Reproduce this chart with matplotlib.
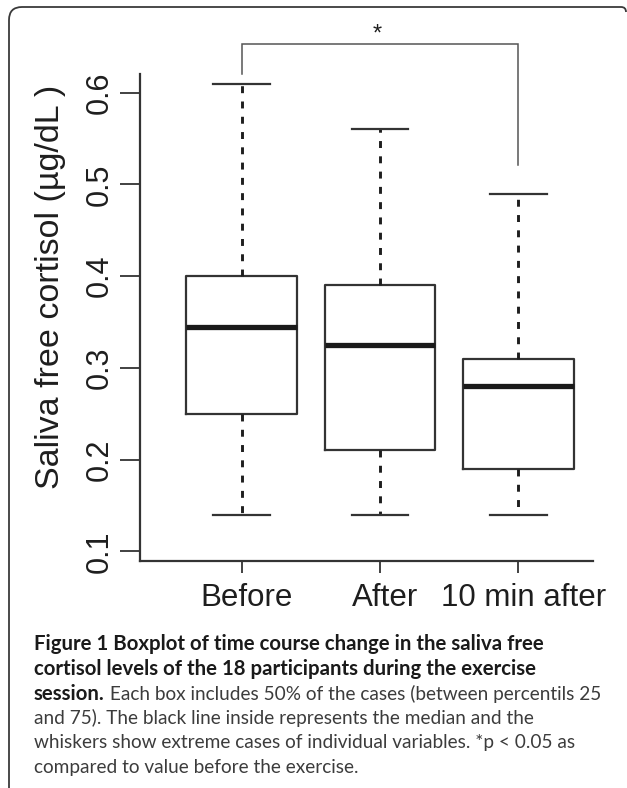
import matplotlib
matplotlib.use("Agg")
import matplotlib.pyplot as plt
from matplotlib.path import Path
from matplotlib.patches import PathPatch
from matplotlib.transforms import Affine2D, ScaledTranslation

# ---- data ----
categories = ["Before", "After", "10 min after"]
whisker_low = [0.14, 0.14, 0.14]
q1 = [0.25, 0.21, 0.19]
medians = [0.345, 0.325, 0.28]
q3 = [0.40, 0.39, 0.31]
whisker_high = [0.61, 0.56, 0.49]
yticks = [0.1, 0.2, 0.3, 0.4, 0.5, 0.6]
ylabel = "Saliva free cortisol (\u00b5g/dL )"
sig_pair = (1, 3)
sig_text = "*"

caption_bold_1 = "Figure 1 Boxplot of time course change in the saliva free"
caption_bold_2 = "cortisol levels of the 18 participants during the exercise"
caption_bold_3 = "session."
caption_reg_3 = " Each box includes 50% of the cases (between percentils 25"
caption_reg_4 = "and 75). The black line inside represents the median and the"
caption_reg_5 = "whiskers show extreme cases of individual variables. *p < 0.05 as"
caption_reg_6 = "compared to value before the exercise."

W, H = 627, 788
plt.rcParams['lines.scale_dashes'] = False
fig = plt.figure(figsize=(W / 100, H / 100), dpi=100)
fig.patch.set_facecolor("white")

def fx(px):
    return px / W

def fy(py):
    return 1 - py / H

# axes placement (pixel coordinates of plot region)
ax_l, ax_r, ax_t, ax_b = 140, 593, 74, 561
ax = fig.add_axes([fx(ax_l), fy(ax_b), fx(ax_r) - fx(ax_l), fy(ax_t) - fy(ax_b)])

line_col = "#333333"
text_col = "#1e1e1e"

stats = []
for i, c in enumerate(categories):
    stats.append(dict(label=c, whislo=whisker_low[i], q1=q1[i], med=medians[i],
                      q3=q3[i], whishi=whisker_high[i], fliers=[]))

positions = list(range(1, len(categories) + 1))
ax.bxp(stats, positions=positions, widths=0.8, capwidths=0.41, showfliers=False,
       boxprops=dict(color=line_col, linewidth=1.6),
       medianprops=dict(color="#1a1a1a", linewidth=3.8, solid_capstyle="butt"),
       whiskerprops=dict(color="#1e1e1e", linewidth=2.1, linestyle=(0, (5.0, 6.0))),
       capprops=dict(color=line_col, linewidth=1.6))

ax.set_xlim(0.265, 3.54)
ax.set_ylim(0.0894, 0.6204)
ax.set_yticks(yticks)
ax.set_yticklabels([f"{v:.1f}" for v in yticks], rotation=90, va="center",
                   fontfamily="Liberation Sans", fontsize=22, color=text_col)
ax.set_xticks(positions)
ax.set_xticklabels(categories, fontfamily="Liberation Sans", fontsize=22.5, color=text_col)
ax.tick_params(axis="y", length=14.4, width=1.3, color=line_col, pad=4)
ax.tick_params(axis="x", length=8.6, width=1.3, color=line_col, pad=7)
shift = ScaledTranslation(5 / 100, 0, fig.dpi_scale_trans)
for lab in ax.get_xticklabels():
    lab.set_transform(lab.get_transform() + shift)
for s in ["top", "right"]:
    ax.spines[s].set_visible(False)
for s in ["left", "bottom"]:
    ax.spines[s].set_color(line_col)
    ax.spines[s].set_linewidth(1.6)
ax.set_facecolor("white")

fig.text(fx(51), fy(287), ylabel, rotation=90, ha="center", va="center",
         fontfamily="Liberation Sans", fontsize=24.5, color=text_col)

# significance bracket
br_top = 0.653
left_end = 0.620
right_end = 0.521
ax.plot([sig_pair[0], sig_pair[0], sig_pair[1], sig_pair[1]],
        [left_end, br_top, br_top, right_end], color="#555555", linewidth=1.1,
        clip_on=False, solid_joinstyle="miter")
ax.text((sig_pair[0] + sig_pair[1]) / 2 - 0.02, 0.663, sig_text, ha="center", va="center",
        fontfamily="Liberation Sans", fontsize=17, color=text_col, clip_on=False)

# frame around figure
pix = Affine2D().scale(1 / W, -1 / H).translate(0, 1) + fig.transFigure
verts = [(9, 790), (9, 20), (9, 7), (22, 7), (621, 7), (626, 7), (626, 12)]
codes = [Path.MOVETO, Path.LINETO, Path.CURVE3, Path.CURVE3, Path.LINETO,
         Path.CURVE3, Path.CURVE3]
fig.patches.append(PathPatch(Path(verts, codes), transform=pix, fill=False,
                             edgecolor="#3a3a3a", linewidth=1.3))

# caption
cap_font = "Lato"
x0 = 34
line_ys = [642, 667, 692, 716, 741, 766]
bold_col = "#1a1a1a"
reg_col = "#3c3c3c"
renderer = fig.canvas.get_renderer()

def fitted(text, target_w, weight):
    t = fig.text(0, 0, text, fontfamily=cap_font, fontweight=weight, fontsize=10)
    w = t.get_window_extent(renderer).width
    t.remove()
    return 10 * target_w / w

bold_size = fitted(caption_bold_1, 511, "bold")
reg_size = fitted(caption_reg_4, 501, "normal")

for txt, yy in [(caption_bold_1, line_ys[0]), (caption_bold_2, line_ys[1])]:
    fig.text(fx(x0), fy(yy), txt, fontfamily=cap_font, fontweight="bold",
             fontsize=bold_size, color=bold_col, va="center_baseline")
tb = fig.text(fx(x0), fy(line_ys[2]), caption_bold_3, fontfamily=cap_font, fontweight="bold",
              fontsize=bold_size, color=bold_col, va="center_baseline")
bw = tb.get_window_extent(renderer).width
fig.text(fx(x0 + bw), fy(line_ys[2]), caption_reg_3, fontfamily=cap_font,
         fontsize=reg_size, color=reg_col, va="center_baseline")
for txt, yy in [(caption_reg_4, line_ys[3]), (caption_reg_5, line_ys[4]),
                (caption_reg_6, line_ys[5])]:
    fig.text(fx(x0), fy(yy), txt, fontfamily=cap_font, fontsize=reg_size,
             color=reg_col, va="center_baseline")

fig.savefig("out.png", dpi=100, facecolor="white")
